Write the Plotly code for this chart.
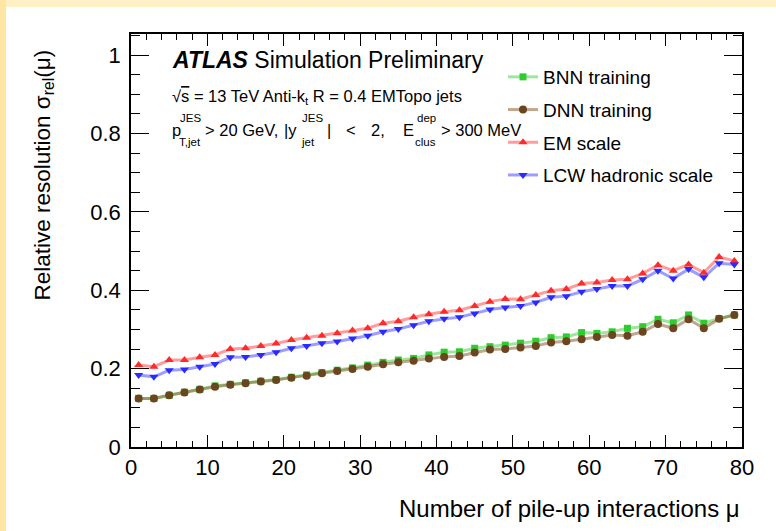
import plotly.graph_objects as go

# ---------------- data ----------------
mu = [1, 3, 5, 7, 9, 11, 13, 15, 17, 19, 21, 23, 25, 27, 29, 31, 33, 35, 37, 39,
      41, 43, 45, 47, 49, 51, 53, 55, 57, 59, 61, 63, 65, 67, 69, 71, 73, 75, 77, 79]

bnn = [0.124, 0.124, 0.132, 0.140, 0.147, 0.156, 0.160, 0.164, 0.168, 0.172,
       0.178, 0.184, 0.190, 0.196, 0.202, 0.209, 0.216, 0.222, 0.226, 0.235,
       0.242, 0.243, 0.252, 0.256, 0.260, 0.265, 0.270, 0.279, 0.281, 0.292,
       0.290, 0.294, 0.303, 0.307, 0.326, 0.317, 0.337, 0.316, 0.328, 0.337]

dnn = [0.124, 0.124, 0.132, 0.139, 0.147, 0.154, 0.159, 0.163, 0.167, 0.171,
       0.177, 0.182, 0.188, 0.194, 0.199, 0.205, 0.211, 0.216, 0.220, 0.226,
       0.230, 0.232, 0.241, 0.249, 0.250, 0.254, 0.258, 0.267, 0.270, 0.275,
       0.281, 0.286, 0.284, 0.294, 0.314, 0.303, 0.326, 0.303, 0.327, 0.337]

em = [0.209, 0.205, 0.222, 0.222, 0.229, 0.235, 0.250, 0.252, 0.258, 0.264,
      0.273, 0.279, 0.284, 0.290, 0.297, 0.303, 0.316, 0.321, 0.331, 0.339,
      0.345, 0.349, 0.360, 0.371, 0.378, 0.377, 0.388, 0.399, 0.403, 0.417,
      0.420, 0.426, 0.428, 0.443, 0.464, 0.450, 0.466, 0.445, 0.485, 0.475]

lcw = [0.184, 0.179, 0.196, 0.198, 0.205, 0.212, 0.229, 0.230, 0.235, 0.242,
       0.252, 0.258, 0.265, 0.269, 0.277, 0.284, 0.294, 0.301, 0.311, 0.321,
       0.327, 0.331, 0.341, 0.351, 0.356, 0.360, 0.369, 0.382, 0.385, 0.396,
       0.403, 0.411, 0.411, 0.428, 0.450, 0.430, 0.454, 0.433, 0.469, 0.466]

series_names = ["BNN training", "DNN training", "EM scale", "LCW hadronic scale"]

x_tickvals = [0, 10, 20, 30, 40, 50, 60, 70, 80]
x_ticktext = ["0", "10", "20", "30", "40", "50", "60", "70", "80"]
y_tickvals = [0, 0.2, 0.4, 0.6, 0.8, 1.0]
y_ticktext = ["0", "0.2", "0.4", "0.6", "0.8", "1"]

# ---------------- layout geometry ----------------
W, H = 776, 531
L, R, T, B = 131, 742, 34, 447
PW, PH = R - L, B - T


def px(x):
    return (x - L) / PW


def py(y):
    return (B - y) / PH


FONT = "Liberation Sans, Arial, Helvetica, sans-serif"

styles = [
    dict(sym="square", msize=7, mcol="#2ecc2e", lcol="rgba(40,200,40,0.45)"),
    dict(sym="circle", msize=8, mcol="#6a4520", lcol="rgba(140,95,50,0.55)"),
    dict(sym="triangle-up", msize=8, mcol="#ff2a2a", lcol="rgba(255,60,60,0.5)"),
    dict(sym="triangle-down", msize=8, mcol="#2a2aff", lcol="rgba(60,60,255,0.5)"),
]

fig = go.Figure()
for i, (name, ys) in enumerate(zip(series_names, [bnn, dnn, em, lcw])):
    s = styles[i]
    fig.add_trace(go.Scatter(
        x=mu, y=ys, name=name, mode="lines+markers",
        legendgroup=f"g{i}",
        line=dict(color=s["lcol"], width=3),
        marker=dict(symbol=s["sym"], size=s["msize"], color=s["mcol"],
                    line=dict(width=0)),
    ))

ann = []
# ATLAS label
ann.append(dict(x=px(170), y=py(60), xref="paper", yref="paper", xanchor="left",
                yanchor="middle", showarrow=False,
                text="<b><i>ATLAS</i></b> Simulation Preliminary",
                font=dict(family=FONT, size=23, color="black")))
ann.append(dict(x=px(170), y=py(97), xref="paper", yref="paper", xanchor="left",
                yanchor="middle", showarrow=False,
                text="√<span style='text-decoration:overline'>s</span> = 13 TeV Anti-k<sub>t</sub> R = 0.4 EMTopo jets",
                font=dict(family=FONT, size=16.5, color="black")))

# third line with stacked super/subscripts (ROOT TLatex spacing)
main_y = 130
SUP_Y, SUB_Y, SMALL, MAIN = 118, 142, 11.5, 16.5
pieces = [
    (170, main_y, "p", MAIN),
    (178, SUP_Y, "JES", SMALL),
    (177, SUB_Y, "T,jet", SMALL),
    (203, main_y, "> 20 GeV,", MAIN),
    (282, main_y, "|y", MAIN),
    (300, SUP_Y, "JES", SMALL),
    (299, SUB_Y, "jet", SMALL),
    (325, main_y, "|", MAIN),
    (344, main_y, "<", MAIN),
    (369, main_y, "2,", MAIN),
    (401, main_y, "E", MAIN),
    (415, SUP_Y, "dep", SMALL),
    (413, SUB_Y, "clus", SMALL),
    (439, main_y, "> 300 MeV", MAIN),
]
for xp, yp, t, fs in pieces:
    ann.append(dict(x=px(xp), y=py(yp), xref="paper", yref="paper", xanchor="left",
                    yanchor="middle", showarrow=False, text=t,
                    font=dict(family=FONT, size=fs, color="black")))

# axis titles (ROOT style: right / top aligned)
ann.append(dict(x=px(43), y=py(48), xref="paper", yref="paper", xanchor="center",
                yanchor="top", showarrow=False, textangle=-90,
                text="Relative resolution σ<sub>rel</sub>(μ)",
                font=dict(family=FONT, size=22.5, color="black")))
ann.append(dict(x=px(742), y=py(508), xref="paper", yref="paper", xanchor="right",
                yanchor="middle", showarrow=False,
                text="Number of pile-up interactions μ",
                font=dict(family=FONT, size=24, color="black")))

# yellowish page border (left and top strips)
shapes = [
    dict(type="rect", xref="paper", yref="paper", x0=px(-5), x1=px(6),
         y0=py(H + 5), y1=py(-5), fillcolor="#ffe6a3", line=dict(width=0),
         layer="below"),
    dict(type="rect", xref="paper", yref="paper", x0=px(6), x1=px(W + 5),
         y0=py(7), y1=py(-5), fillcolor="#fff0c6", line=dict(width=0),
         layer="below"),
]

fig.update_layout(
    width=W, height=H,
    margin=dict(l=L, r=W - R, t=T, b=H - B),
    paper_bgcolor="white",
    plot_bgcolor="white",
    font=dict(family=FONT, size=20, color="black"),
    showlegend=True,
    legend=dict(x=px(503), y=py(58), xanchor="left", yanchor="top",
                bgcolor="rgba(0,0,0,0)", font=dict(family=FONT, size=19),
                tracegroupgap=5, itemwidth=30),
    annotations=ann,
    shapes=shapes,
)

fig.update_xaxes(
    range=[0, 80], showgrid=False, zeroline=False,
    showline=True, linecolor="black", linewidth=1.5, mirror="allticks",
    ticks="inside", ticklen=12, tickwidth=1.2, tickcolor="black",
    tickvals=x_tickvals, ticktext=x_ticktext,
    tickfont=dict(family=FONT, size=22),
    minor=dict(ticks="inside", dtick=2, ticklen=6, tickwidth=1.2,
               tickcolor="black", showgrid=False),
)
fig.update_yaxes(
    range=[0, 1.054], showgrid=False, zeroline=False,
    showline=True, linecolor="black", linewidth=1.5, mirror="allticks",
    ticks="inside", ticklen=18, tickwidth=1.2, tickcolor="black",
    tickvals=y_tickvals, ticktext=y_ticktext, ticklabelstandoff=4,
    tickfont=dict(family=FONT, size=22),
    minor=dict(ticks="inside", dtick=0.05, ticklen=9, tickwidth=1.2,
               tickcolor="black", showgrid=False),
)

fig.write_html("out.html")
